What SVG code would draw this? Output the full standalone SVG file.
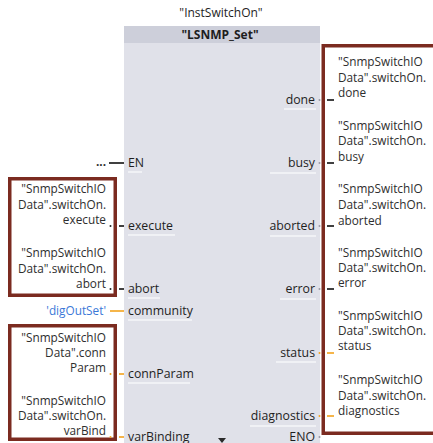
<svg xmlns="http://www.w3.org/2000/svg" width="433" height="443" viewBox="0 0 433 443">
  <style>
    text { font-family: "Open Sans", "Noto Sans", "DejaVu Sans", sans-serif; }
    .title { font-size: 12px; fill: #1e1e1e; text-anchor: middle; }
    .name { font-size: 12px; font-weight: bold; fill: #1e1e1e; text-anchor: middle; }
    .pin { font-size: 12.3px; fill: #1e1e1e; }
    .pinL { text-anchor: start; }
    .pinR { text-anchor: end; }
    .op { font-size: 11.8px; fill: #2e2e2e; }
    .opL { text-anchor: end; }
    .opR { text-anchor: start; }
    .lit { font-size: 11.8px; fill: #3b78d8; text-anchor: end; }
    .frame { fill: #ffffff; stroke: #7b2b20; stroke-width: 3.5; }
    .wire { stroke: #111111; stroke-width: 1.6; fill: none; }
    .wireO { stroke: #f3a21c; stroke-width: 1.6; fill: none; }
    .under { stroke: #f6f6f9; stroke-width: 1.5; }
    .dot { fill: #222222; }
    .dotO { fill: #f3a21c; }
    .dotG { fill: #9a9aa6; }
  </style>

  <!-- instance and block -->
  <g id="block">
    <text class="title" x="221" y="17">"InstSwitchOn"</text>
    <rect x="124" y="43" width="196" height="400" fill="#e0e1e9"/>
    <rect x="124" y="26" width="196" height="17" fill="#cdcfda"/>
    <text class="name" x="220" y="39">"LSNMP_Set"</text>
    <!-- input pins -->
    <text class="pin pinL" x="128" y="167">EN</text>
    <text class="pin pinL" x="128" y="230">execute</text>
    <text class="pin pinL" x="128" y="293">abort</text>
    <text class="pin pinL" x="128" y="315">community</text>
    <text class="pin pinL" x="128" y="378">connParam</text>
    <text class="pin pinL" x="128" y="441">varBinding</text>
    <line class="under" x1="128" y1="172" x2="142" y2="172"/>
    <line class="under" x1="128" y1="235" x2="175" y2="235"/>
    <line class="under" x1="128" y1="298" x2="160" y2="298"/>
    <line class="under" x1="128" y1="320" x2="192" y2="320"/>
    <line class="under" x1="128" y1="383" x2="190" y2="383"/>
    <!-- output pins -->
    <text class="pin pinR" x="315" y="104">done</text>
    <text class="pin pinR" x="315" y="167">busy</text>
    <text class="pin pinR" x="315" y="230">aborted</text>
    <text class="pin pinR" x="315" y="293">error</text>
    <text class="pin pinR" x="315" y="357">status</text>
    <text class="pin pinR" x="315" y="420">diagnostics</text>
    <text class="pin pinR" x="315" y="441">ENO</text>
    <line class="under" x1="284" y1="109" x2="316" y2="109"/>
    <line class="under" x1="270" y1="173" x2="316" y2="173"/>
    <line class="under" x1="270" y1="236" x2="316" y2="236"/>
    <line class="under" x1="280" y1="299" x2="316" y2="299"/>
    <line class="under" x1="276" y1="362" x2="316" y2="362"/>
    <line class="under" x1="250" y1="426" x2="316" y2="426"/>
    <!-- collapse marker -->
    <path d="M218,438 L226,438 L222,443 Z" fill="#2a2a2a"/>
  </g>

  <!-- operand boxes -->
  <g id="in-control">
    <rect class="frame" x="9.75" y="178.75" width="105.5" height="116.5"/>
    <text class="op opL" x="106" y="193">"SnmpSwitchIO</text>
    <text class="op opL" x="106" y="209">Data".switchOn.</text>
    <text class="op opL" x="106" y="224">execute</text>
    <text class="op opL" x="106" y="257">"SnmpSwitchIO</text>
    <text class="op opL" x="106" y="273">Data".switchOn.</text>
    <text class="op opL" x="106" y="288">abort</text>
  </g>

  <g id="in-community">
    <text class="lit" x="106" y="315">'digOutSet'</text>
  </g>

  <g id="in-params">
    <rect class="frame" x="9.75" y="325.75" width="105.5" height="113.5"/>
    <text class="op opL" x="106" y="342">"SnmpSwitchIO</text>
    <text class="op opL" x="106" y="357">Data".conn</text>
    <text class="op opL" x="106" y="372">Param</text>
    <text class="op opL" x="106" y="405">"SnmpSwitchIO</text>
    <text class="op opL" x="106" y="420">Data".switchOn.</text>
    <text class="op opL" x="106" y="435">varBind</text>
  </g>

  <g id="in-enable">
    <text class="op opL" x="106" y="166" font-weight="bold">...</text>
  </g>

  <g id="out-results">
    <rect class="frame" x="323.25" y="45.75" width="120" height="387.5"/>
    <text class="op opR" x="338" y="66">"SnmpSwitchIO</text>
    <text class="op opR" x="338" y="82">Data".switchOn.</text>
    <text class="op opR" x="338" y="97">done</text>
    <text class="op opR" x="338" y="130">"SnmpSwitchIO</text>
    <text class="op opR" x="338" y="145">Data".switchOn.</text>
    <text class="op opR" x="338" y="161">busy</text>
    <text class="op opR" x="338" y="193">"SnmpSwitchIO</text>
    <text class="op opR" x="338" y="209">Data".switchOn.</text>
    <text class="op opR" x="338" y="225">aborted</text>
    <text class="op opR" x="338" y="257">"SnmpSwitchIO</text>
    <text class="op opR" x="338" y="272">Data".switchOn.</text>
    <text class="op opR" x="338" y="287">error</text>
    <text class="op opR" x="338" y="320">"SnmpSwitchIO</text>
    <text class="op opR" x="338" y="335">Data".switchOn.</text>
    <text class="op opR" x="338" y="350">status</text>
    <text class="op opR" x="338" y="384">"SnmpSwitchIO</text>
    <text class="op opR" x="338" y="400">Data".switchOn.</text>
    <text class="op opR" x="338" y="415">diagnostics</text>
  </g>

  <!-- connectors -->
  <g id="connectors">
    <line class="wire" x1="109" y1="163" x2="124" y2="163"/>
    <circle class="dot" cx="110.5" cy="226" r="1"/>
    <line class="wire" x1="119" y1="226" x2="124" y2="226"/>
    <circle class="dot" cx="110.5" cy="289" r="1"/>
    <line class="wire" x1="119" y1="289" x2="124" y2="289"/>
    <line class="wireO" x1="110" y1="311" x2="124" y2="311"/>
    <circle class="dotO" cx="110.5" cy="374" r="1"/>
    <line class="wireO" x1="119" y1="374" x2="124" y2="374"/>
    <circle class="dotO" cx="110.5" cy="437" r="1"/>
    <line class="wireO" x1="119" y1="437" x2="124" y2="437"/>

    <circle class="dotG" cx="319.5" cy="100" r="1"/>
    <line class="wire" x1="327" y1="100" x2="334" y2="100"/>
    <circle class="dotG" cx="319.5" cy="163" r="1"/>
    <line class="wire" x1="327" y1="163" x2="334" y2="163"/>
    <circle class="dotG" cx="319.5" cy="226" r="1"/>
    <line class="wire" x1="327" y1="226" x2="334" y2="226"/>
    <circle class="dotG" cx="319.5" cy="289" r="1"/>
    <line class="wire" x1="327" y1="289" x2="334" y2="289"/>
    <circle class="dotO" cx="319.5" cy="353" r="1"/>
    <line class="wireO" x1="327" y1="353" x2="334" y2="353"/>
    <circle class="dotO" cx="319.5" cy="416" r="1"/>
    <line class="wireO" x1="327" y1="416" x2="334" y2="416"/>
    <circle class="dotG" cx="319.5" cy="437" r="1"/>
  </g>
</svg>
